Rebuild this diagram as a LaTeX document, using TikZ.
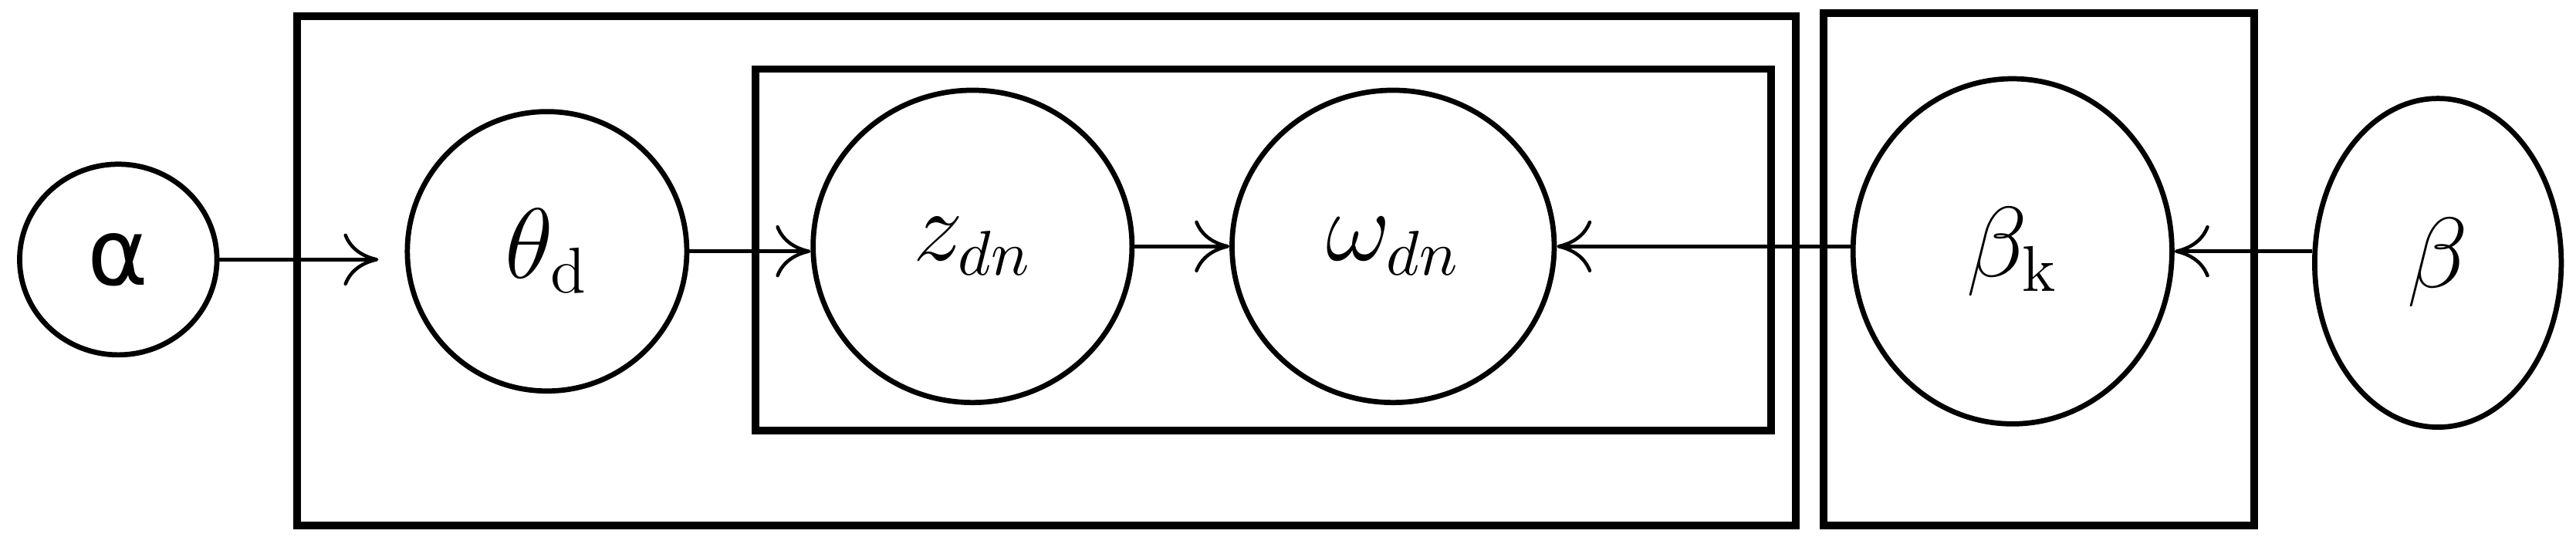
\documentclass[tikz,border=0pt]{standalone}
\usepackage{fontspec}
\newfontfamily\dejavu{DejaVu Sans}
\usetikzlibrary{arrows.meta,shapes.geometric}
\begin{document}
\begin{tikzpicture}[x=0.01cm,y=-0.01cm,
  var/.style={draw,ellipse,line width=0.9pt,inner sep=0pt,font=\fontsize{16}{18}\selectfont},
  plate/.style={draw,line width=1.3pt},
  edge/.style={-{To[length=6pt,width=9pt]},line width=0.6pt}]
\useasboundingbox (0,0) rectangle (1568,331);
\draw[plate] (181,10) rectangle (1093,320);
\draw[plate] (460,42) rectangle (1078,262);
\draw[plate] (1110,8) rectangle (1372,320);
\node[var,minimum width=1.20cm,minimum height=1.16cm] (a) at (72,158) {\dejavu α};
\node[var,minimum width=1.70cm,minimum height=1.70cm] (t) at (333,153) {$\theta_{\mathrm{d}}$};
\node[var,minimum width=1.94cm,minimum height=1.90cm] (z) at (592,150) {$z_{dn}$};
\node[var,minimum width=1.96cm,minimum height=1.90cm] (w) at (848,150) {$\omega_{dn}$};
\node[var,minimum width=1.94cm,minimum height=2.10cm] (bk) at (1225,153) {$\beta_{\mathrm{k}}$};
\node[var,minimum width=1.50cm,minimum height=2.00cm] (b) at (1484,160) {$\beta$};
\draw[edge,shorten >=0.16cm] (a) -- (a -| t.west);
\draw[edge] (t.east) -- (t.east -| z.west);
\draw[edge] (z) -- (w);
\draw[edge] (bk.west |- w) -- (w.east);
\draw[edge] (b.west |- bk) -- (bk.east);
\end{tikzpicture}
\end{document}
